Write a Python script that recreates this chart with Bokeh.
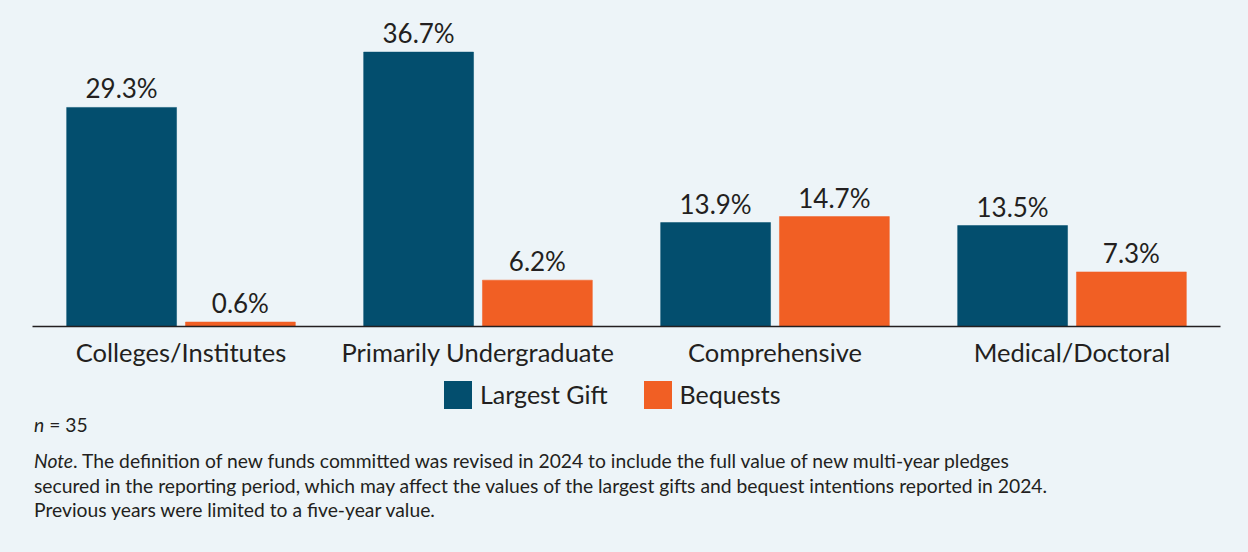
from bokeh.plotting import figure
from bokeh.models import ColumnDataSource, LabelSet, Legend, LegendItem, Range1d, Div
from bokeh.layouts import column
from bokeh.transform import dodge
from bokeh.embed import file_html
from bokeh.resources import INLINE
from bokeh.core.properties import value

categories = ["Colleges/Institutes", "Primarily Undergraduate", "Comprehensive", "Medical/Doctoral"]
largest_gift = [29.3, 36.7, 13.9, 13.5]
bequests = [0.6, 6.2, 14.7, 7.3]
series_names = ["Largest Gift", "Bequests"]
n_text = "35"
note_lines = [
    "The definition of new funds committed was revised in 2024 to include the full value of new multi-year pledges",
    "secured in the reporting period, which may affect the values of the largest gifts and bequest intentions reported in 2024.",
    "Previous years were limited to a five-year value.",
]

BG = "#edf4f8"
TEAL = "#034e6e"
ORANGE = "#f15f24"
TXT = "#231f20"
FONT = "Lato"
W = 1246

src = ColumnDataSource(dict(
    cat=categories,
    gift=largest_gift,
    beq=bequests,
    gift_lbl=[f"{v:.1f}%" for v in largest_gift],
    beq_lbl=[f"{v:.1f}%" for v in bequests],
))

# ---- main chart ----
p = figure(x_range=categories, y_range=Range1d(0, 43.6),
           frame_width=1188, frame_height=326,
           output_backend="svg", toolbar_location=None,
           min_border_left=32, min_border_right=26, min_border_top=0, min_border_bottom=44)
p.background_fill_color = BG
p.border_fill_color = BG
p.outline_line_color = None
p.xgrid.visible = False
p.ygrid.visible = False
p.yaxis.visible = False
p.x_range.range_padding = 0

r1 = p.vbar(x=dodge("cat", -0.2, range=p.x_range), top="gift", width=0.37, source=src,
            fill_color=TEAL, line_color=TEAL, line_width=0.5)
r2 = p.vbar(x=dodge("cat", 0.2, range=p.x_range), top="beq", width=0.37, source=src,
            fill_color=ORANGE, line_color=ORANGE, line_width=0.5)

for col, lbl, off in (("gift", "gift_lbl", -0.2), ("beq", "beq_lbl", 0.2)):
    ls = LabelSet(x=dodge("cat", off, range=p.x_range), y=col, text=lbl, source=src,
                  text_align="center", text_baseline="alphabetic", y_offset=9,
                  text_font=value(FONT), text_font_size="26px", text_color=TXT)
    p.add_layout(ls)

ax = p.xaxis[0]
ax.axis_line_color = TXT
ax.axis_line_width = 1.3
ax.major_tick_line_color = None
ax.minor_tick_line_color = None
ax.major_label_text_font = FONT
ax.major_label_text_font_size = "25.5px"
ax.major_label_text_color = TXT
ax.major_label_standoff = 4

# ---- legend strip ----
H2 = 40
q = figure(x_range=Range1d(0, 1), y_range=Range1d(0, 1),
           frame_width=1188, frame_height=H2,
           output_backend="svg", toolbar_location=None,
           min_border_left=32, min_border_right=26, min_border_top=0, min_border_bottom=0)
q.background_fill_color = BG
q.border_fill_color = BG
q.outline_line_color = None
q.xaxis.visible = False
q.yaxis.visible = False
q.xgrid.visible = False
q.ygrid.visible = False
# zero-size swatch renderers that only feed the legend
d1 = q.vbar(x=[0], top=[0], bottom=[0], width=0, fill_color=TEAL, line_color=None)
d2 = q.vbar(x=[0], top=[0], bottom=[0], width=0, fill_color=ORANGE, line_color=None)
legend = Legend(items=[LegendItem(label=series_names[0], renderers=[d1]),
                       LegendItem(label=series_names[1], renderers=[d2])],
                orientation="horizontal", location=(408, -1.5),
                glyph_width=35, glyph_height=35, label_standoff=5, spacing=32,
                label_text_font=FONT, label_text_font_size="25px", label_text_color=TXT,
                label_height=35, background_fill_alpha=0, border_line_color=None,
                padding=0, margin=0)
q.add_layout(legend, "center")

# ---- footnotes ----
note_html = (
    f'<div style="font-family:Lato,sans-serif;font-size:19.3px;color:{TXT};'
    f'padding:0 0 0 29px;white-space:nowrap;">'
    f'<div style="line-height:20px"><i>n</i> = {n_text}</div>'
    f'<div style="margin-top:14px;line-height:24.5px"><i>Note</i>. {note_lines[0]}<br>{note_lines[1]}<br>{note_lines[2]}</div>'
    f'</div>'
)
notes = Div(text=note_html, width=W, height=140, styles={"background-color": BG})

layout = column(p, q, notes, spacing=0, styles={"background-color": BG})
open("out.html", "w").write(file_html(layout, INLINE))
